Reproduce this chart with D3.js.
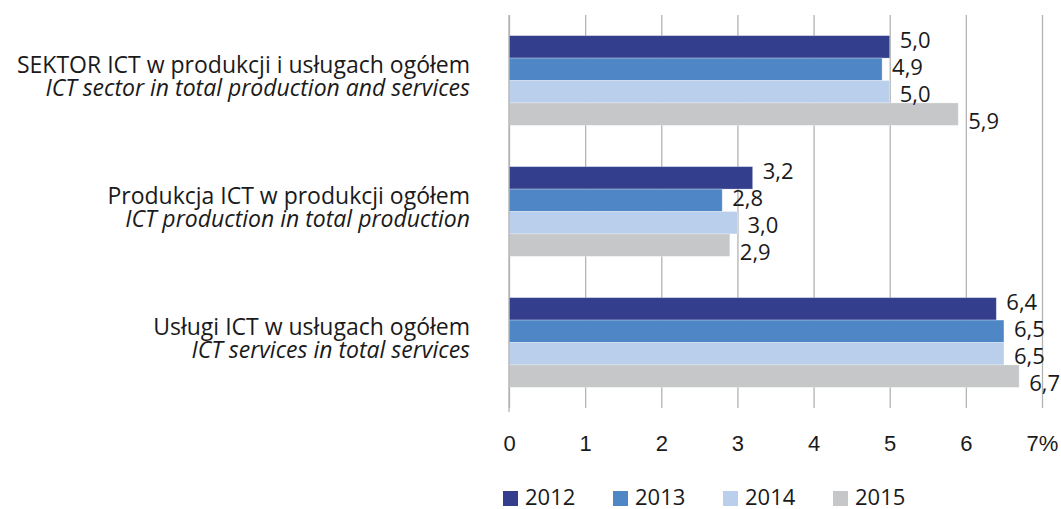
<!DOCTYPE html>
<html>
<head>
<meta charset="utf-8">
<script src="https://cdn.jsdelivr.net/npm/d3@7"></script>
<style>
  body { margin: 0; background: #fff; }
  svg { display: block; font-family: "Open Sans", Lato, sans-serif; }
</style>
</head>
<body>
<svg id="chart" width="1061" height="509"></svg>
<script>
const categoriesPl = [ 'SEKTOR ICT w produkcji i usługach ogółem', 'Produkcja ICT w produkcji ogółem', 'Usługi ICT w usługach ogółem' ]
const categoriesEn = [ 'ICT sector in total production and services', 'ICT production in total production', 'ICT services in total services' ]
const years = [ '2012', '2013', '2014', '2015' ]
const colors = [ '#333f8d', '#4f86c6', '#b9cfeb', '#c6c7c9' ]
// one array per category, in the order of years
const values = [
    [ 5.0, 4.9, 5.0, 5.9 ],
    [ 3.2, 2.8, 3.0, 2.9 ],
    [ 6.4, 6.5, 6.5, 6.7 ]
]
const ticks = [ 0, 1, 2, 3, 4, 5, 6, 7 ]

const svg = d3.select( '#chart' ),
      plotLeft = 509, plotRight = 1042, plotTop = 15, plotBottom = 408,
      fontSize = '22px',
      fmt = v => d3.format( '.1f' )( v ).replace( '.', ',' )

const x = d3.scaleLinear().domain( [ 0, 7 ] ).range( [ plotLeft, plotRight ] )

const y0 = d3.scaleBand().domain( d3.range( categoriesPl.length ) ).range( [ plotTop, plotBottom ] )

const y1 = d3.scaleBand().domain( years ).range( [ 0, y0.bandwidth() ] )
    .paddingInner( 0 ).paddingOuter( 0.92 )

// gridlines + value axis
const xAxis = d3.axisBottom( x ).tickValues( ticks )
    .tickSize( -( plotBottom - plotTop ) )
    .tickFormat( d => d === 7 ? '7%' : d )

svg.append( 'g' )
    .attr( 'transform', `translate(0, ${plotBottom})` )
    .call( xAxis )
    .call( g => g.select( '.domain' ).remove() )
    .call( g => g.selectAll( '.tick line' ).attr( 'stroke', '#b3b3b3' ).attr( 'stroke-width', 1.3 ) )
    .call( g => g.selectAll( '.tick text' )
        .attr( 'y', 43 ).attr( 'dy', null )
        .attr( 'fill', '#1a1a1a' ).style( 'font-size', fontSize ) )

// bars
const groups = svg.append( 'g' ).selectAll( 'g' )
    .data( values )
    .join( 'g' )
    .attr( 'transform', ( d, i ) => `translate(0, ${y0( i )})` )

groups.selectAll( 'rect' )
    .data( d => d.map( ( v, j ) => ( { v, year: years[ j ], j } ) ) )
    .join( 'rect' )
    .attr( 'x', x( 0 ) )
    .attr( 'y', d => y1( d.year ) )
    .attr( 'width', d => x( d.v ) - x( 0 ) )
    .attr( 'height', y1.bandwidth() )
    .attr( 'fill', d => colors[ d.j ] )
    .attr( 'stroke', 'rgba(255,255,255,0.35)' )
    .attr( 'stroke-width', 0.8 )

// value labels, spread a little so they do not collide
const labelGap = 27
groups.selectAll( 'text' )
    .data( d => d.map( ( v, j ) => ( { v, j } ) ) )
    .join( 'text' )
    .attr( 'x', d => x( d.v ) + 10 )
    .attr( 'y', d => y0.bandwidth() / 2 + ( d.j - 1.5 ) * labelGap )
    .attr( 'dy', '0.36em' )
    .attr( 'fill', '#1a1a1a' )
    .style( 'font-size', fontSize )
    .text( d => fmt( d.v ) )

// left axis line
svg.append( 'line' )
    .attr( 'x1', plotLeft ).attr( 'x2', plotLeft )
    .attr( 'y1', plotTop ).attr( 'y2', plotBottom + 4 )
    .attr( 'stroke', '#b3b3b3' ).attr( 'stroke-width', 1.3 )

// category labels
const catLabels = svg.append( 'g' ).selectAll( 'text' )
    .data( categoriesPl )
    .join( 'text' )
    .attr( 'x', 470 )
    .attr( 'y', ( d, i ) => y0( i ) + y0.bandwidth() / 2 - 3 )
    .attr( 'text-anchor', 'end' )
    .attr( 'fill', '#1a1a1a' )
    .style( 'font-size', '23px' )

catLabels.append( 'tspan' )
    .attr( 'x', 470 ).attr( 'dy', '-0.2em' )
    .text( d => d )

catLabels.append( 'tspan' )
    .attr( 'x', 470 ).attr( 'dy', '1.0em' )
    .style( 'font-style', 'italic' )
    .text( ( d, i ) => categoriesEn[ i ] )

// legend
const legend = svg.append( 'g' ).selectAll( 'g' )
    .data( years )
    .join( 'g' )
    .attr( 'transform', ( d, i ) => `translate(${503 + i * 110}, 491)` )

legend.append( 'rect' )
    .attr( 'width', 15 ).attr( 'height', 15 )
    .attr( 'fill', ( d, i ) => colors[ i ] )

legend.append( 'text' )
    .attr( 'x', 22 ).attr( 'y', 14 )
    .attr( 'fill', '#1a1a1a' )
    .style( 'font-size', fontSize )
    .text( d => d )
</script>
</body>
</html>
